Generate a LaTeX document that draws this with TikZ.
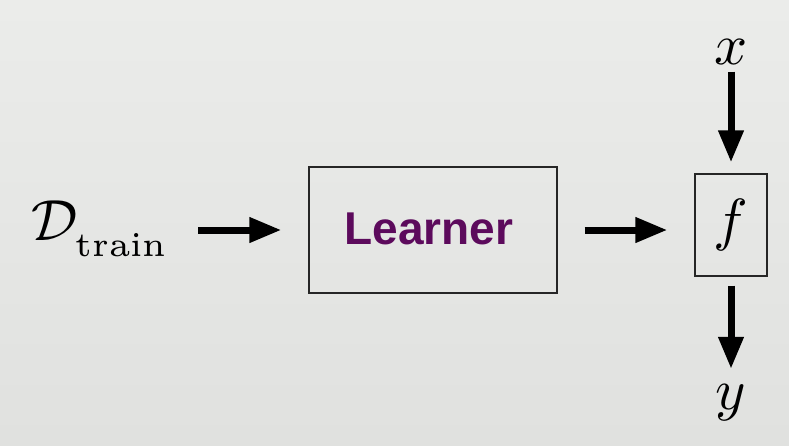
\documentclass[tikz,border=0pt]{standalone}
\usepackage{fontspec}
\newfontfamily\lsans{Liberation Sans}
\usetikzlibrary{arrows.meta}
\definecolor{bgtop}{RGB}{235,236,234}
\definecolor{bgbot}{RGB}{224,225,223}
\definecolor{learnerpurple}{RGB}{92,10,92}
\tikzset{
  bigarrow/.style={line width=7pt, -{Triangle[length=32pt,width=24pt]}},
  blockbox/.style={draw=black!85, line width=1.2pt, inner sep=0pt},
  mathlabel/.style={inner sep=0pt, scale=5.8},
}
\begin{document}
\begin{tikzpicture}[x=1pt,y=-1pt]
\shade[top color=bgtop, bottom color=bgbot] (0,0) rectangle (789,445);
\useasboundingbox (0,0) rectangle (789,445);
\node[mathlabel, anchor=base west] (D) at (30,240)
  {$\mathcal{D}_{\raisebox{-1.4pt}{\fontsize{6.0}{7}\selectfont train}}$};
\node[blockbox, minimum width=248pt, minimum height=126pt] (L) at (433,230) {};
\node[inner sep=0pt, font=\lsans\bfseries\fontsize{46}{50}\selectfont, text=learnerpurple]
  (Ltext) at (429,229) {Learner};
\node[blockbox, minimum width=72pt, minimum height=102pt] (f) at (731,225) {};
\node[mathlabel] (ftext) at (f.center) {$f$};
\node[mathlabel] (x) at (731,52) {$x$};
\node[mathlabel, anchor=base] (y) at (731,409) {$y$};
\draw[bigarrow, shorten <=28pt, shorten >=27pt] (D.east |- L.west) -- (L.west);
\draw[bigarrow, shorten <=27pt, shorten >=27pt] (L.east) -- (L.east -| f.west);
\draw[bigarrow, shorten <=6pt, shorten >=11pt] (x.south) -- (f.north);
\draw[bigarrow, shorten <=9pt, shorten >=14pt] (f.south) -- (y.north);
\end{tikzpicture}
\end{document}
